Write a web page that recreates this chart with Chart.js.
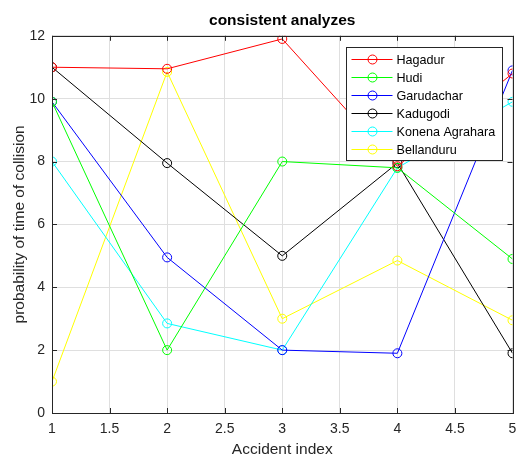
<!DOCTYPE html>
<html>
<head>
<meta charset="utf-8">
<script src="https://cdn.jsdelivr.net/npm/chart.js@4/dist/chart.umd.min.js"></script>
<style>
  html, body { margin: 0; padding: 0; background: #fff; }
  #wrap { width: 518px; height: 459px; }
</style>
</head>
<body>
<div id="wrap"><canvas id="collisionChart" width="518" height="459"></canvas></div>
<script>
// accident index on x
let accidentIndex = [1, 2, 3, 4, 5];

// probability of time of collision per area
let hagadur = [11, 10.95, 11.9, 7.85, 10.8];
let hudi = [9.9, 2, 8, 7.8, 4.9];
let garudachar = [9.9, 4.95, 2, 1.9, 10.9];
let kadugodi = [11, 7.95, 5, 7.95, 1.9];
let konenaAgrahara = [8, 2.85, 2, 7.8, 9.9];
let bellanduru = [1, 10.85, 3, 4.85, 2.95];

let seriesNames = ["Hagadur", "Hudi", "Garudachar", "Kadugodi", "Konena Agrahara", "Bellanduru"];
let seriesValues = [hagadur, hudi, garudachar, kadugodi, konenaAgrahara, bellanduru];
let seriesColors = ["#ff0000", "#00ff00", "#0000ff", "#000000", "#00ffff", "#ffff00"];

let xTicks = [1, 1.5, 2, 2.5, 3, 3.5, 4, 4.5, 5];
let yTicks = [0, 2, 4, 6, 8, 10, 12];

const FONT = "'Liberation Sans', Arial, Helvetica, sans-serif";
const AXIS_COLOR = "#262626";

// box round the axes + inward ticks on all four sides (matlab look)
const boxTicks = {
  id: "boxTicks",
  afterDraw(chart) {
    const { ctx, chartArea: a, scales } = chart;
    ctx.save();
    ctx.strokeStyle = AXIS_COLOR;
    ctx.lineWidth = 1;
    ctx.beginPath();
    xTicks.forEach((t) => {
      const px = Math.round(scales.x.getPixelForValue(t)) + 0.5;
      ctx.moveTo(px, a.bottom);
      ctx.lineTo(px, a.bottom - 5);
      ctx.moveTo(px, a.top);
      ctx.lineTo(px, a.top + 5);
    });
    yTicks.forEach((t) => {
      const py = Math.round(scales.y.getPixelForValue(t)) + 0.5;
      ctx.moveTo(a.left, py);
      ctx.lineTo(a.left + 5, py);
      ctx.moveTo(a.right, py);
      ctx.lineTo(a.right - 5, py);
    });
    ctx.stroke();
    ctx.strokeRect(Math.round(a.left) + 0.5, Math.round(a.top) + 0.5,
      Math.round(a.right - a.left), Math.round(a.bottom - a.top));
    ctx.restore();
  },
};

// legend box in the upper right of the axes
const boxLegend = {
  id: "boxLegend",
  afterDraw(chart) {
    const { ctx, chartArea: a } = chart;
    const w = 156, rowH = 18;
    const h = rowH * chart.data.datasets.length + 5;
    const x0 = Math.round(a.right - 11 - w) + 0.5;
    const y0 = Math.round(a.top + 11) + 0.5;
    ctx.save();
    ctx.fillStyle = "#ffffff";
    ctx.fillRect(x0, y0, w, h);
    ctx.strokeStyle = AXIS_COLOR;
    ctx.lineWidth = 1;
    ctx.strokeRect(x0, y0, w, h);
    ctx.font = "12.6px " + FONT;
    ctx.textBaseline = "middle";
    chart.data.datasets.forEach((ds, i) => {
      const cy = y0 + 12 + i * rowH;
      ctx.strokeStyle = ds.borderColor;
      ctx.beginPath();
      ctx.moveTo(x0 + 5, cy);
      ctx.lineTo(x0 + 46, cy);
      ctx.stroke();
      ctx.beginPath();
      ctx.arc(x0 + 26, cy, 4.5, 0, Math.PI * 2);
      ctx.stroke();
      ctx.fillStyle = "#000000";
      ctx.fillText(ds.label, x0 + 50, cy + 1);
    });
    ctx.restore();
  },
};

let ctx = document.getElementById("collisionChart").getContext("2d");
new Chart(ctx, {
  type: "line",
  data: {
    datasets: seriesNames.map((name, i) => ({
      label: name,
      data: accidentIndex.map((x, j) => ({ x: x, y: seriesValues[i][j] })),
      borderColor: seriesColors[i],
      backgroundColor: "transparent",
      borderWidth: 1,
      pointRadius: 4.5,
      pointHoverRadius: 4.5,
      pointBorderWidth: 1,
      pointBackgroundColor: "transparent",
      pointBorderColor: seriesColors[i],
      tension: 0,
      fill: false,
    })),
  },
  options: {
    responsive: false,
    animation: false,
    layout: { padding: { right: 2.5, bottom: 0 } },
    scales: {
      x: {
        type: "linear",
        min: 1,
        max: 5,
        afterFit: (s) => { s.height = 46; s.paddingRight = 0; s.paddingLeft = 0; },
        afterBuildTicks: (s) => { s.ticks = xTicks.map((v) => ({ value: v })); },
        ticks: { autoSkip: false, maxRotation: 0, padding: 8, color: AXIS_COLOR, font: { family: FONT, size: 14 }, callback: (v) => String(v) },
        grid: { color: "#dfdfdf", drawTicks: false },
        border: { display: false },
        title: { display: true, text: "Accident index", color: AXIS_COLOR, font: { family: FONT, size: 15.5 }, padding: { top: 0, bottom: 0 } },
      },
      y: {
        type: "linear",
        min: 0,
        max: 12,
        afterFit: (s) => { s.width = 52; s.paddingTop = 0; s.paddingBottom = 0; },
        afterBuildTicks: (s) => { s.ticks = yTicks.map((v) => ({ value: v })); },
        ticks: { padding: 7, color: AXIS_COLOR, font: { family: FONT, size: 14 }, callback: (v) => String(v) },
        grid: { color: "#dfdfdf", drawTicks: false },
        border: { display: false },
        title: { display: true, text: "probability of time of collision", color: AXIS_COLOR, font: { family: FONT, size: 15.5 }, padding: { top: 10, bottom: 0 } },
      },
    },
    plugins: {
      legend: { display: false },
      tooltip: { enabled: false },
      title: {
        display: true,
        fullSize: false,
        text: "consistent analyzes",
        color: "#000000",
        font: { family: FONT, size: 15.5, weight: "bold", lineHeight: 1.2 },
        padding: { top: 11.7, bottom: 5.5 },
      },
    },
  },
  plugins: [boxTicks, boxLegend],
});
</script>
</body>
</html>
